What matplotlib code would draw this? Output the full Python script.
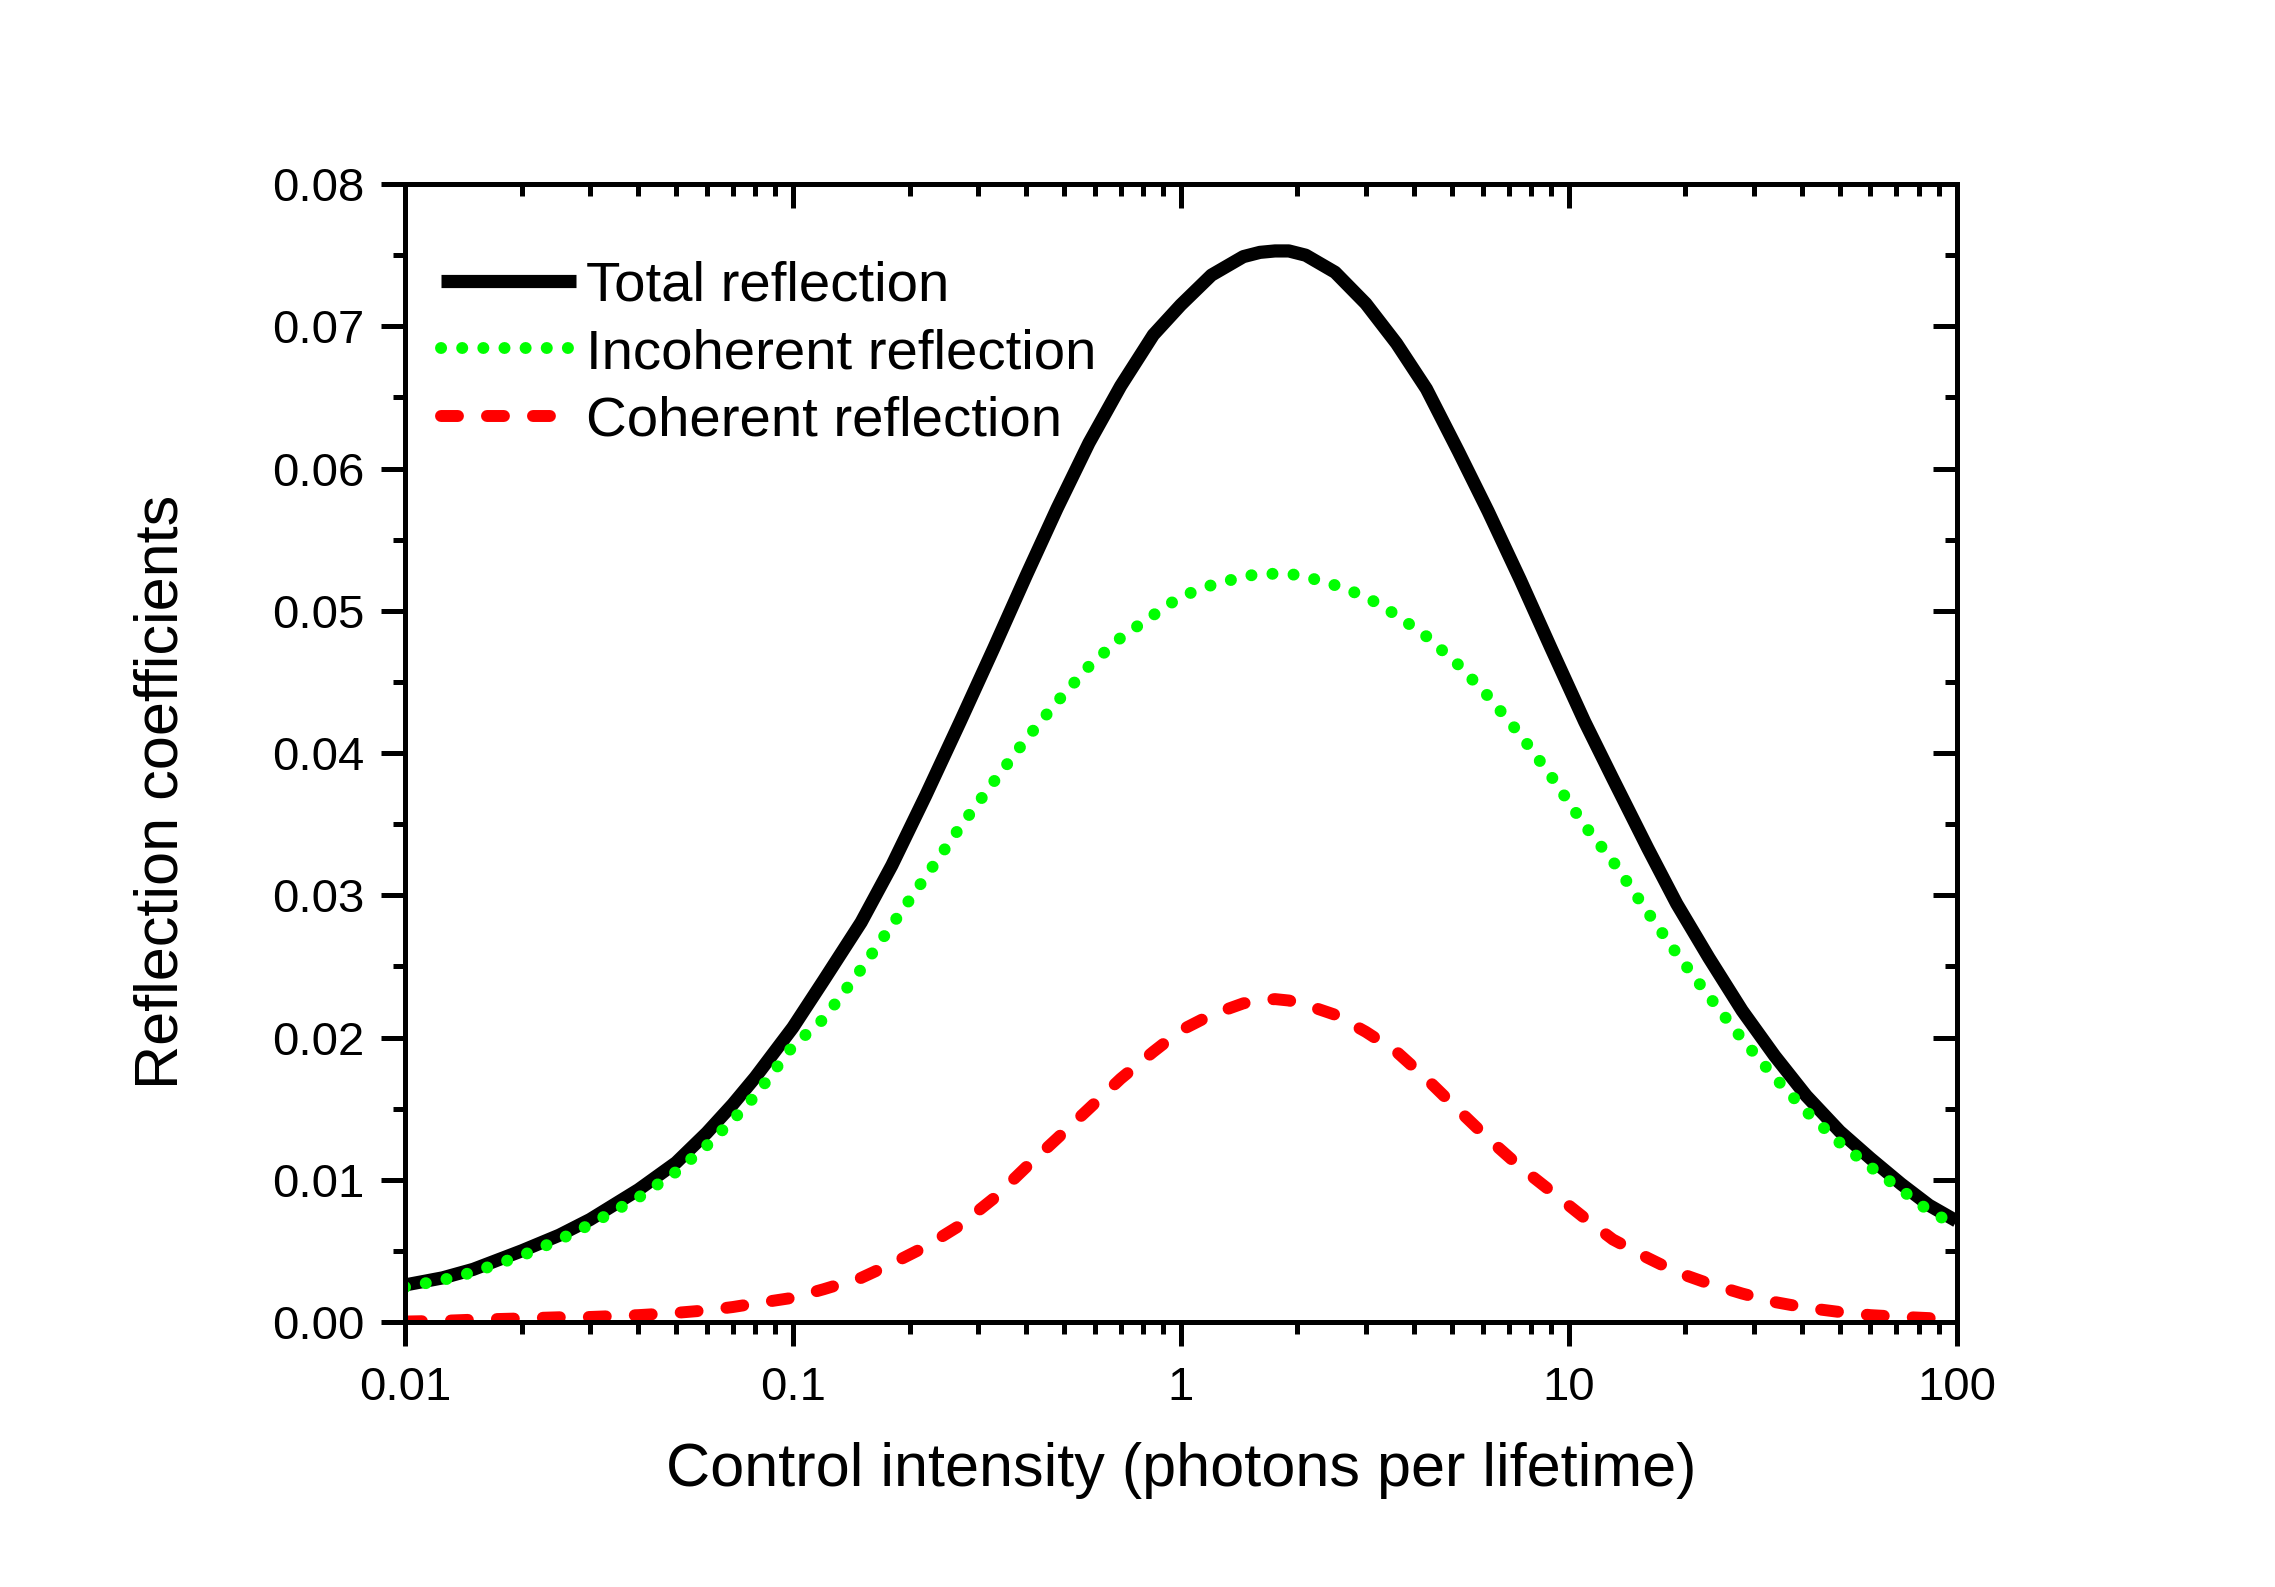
import numpy as np
import matplotlib
matplotlib.use("Agg")
import matplotlib.pyplot as plt
from matplotlib.ticker import LogLocator, NullFormatter, MultipleLocator

plt.rcParams['font.family'] = ['Liberation Sans', 'DejaVu Sans']

# control intensity (photons per lifetime)
intensity = [0.01, 0.0125, 0.015, 0.02, 0.025, 0.03, 0.04, 0.05, 0.06, 0.07,
             0.08, 0.1, 0.12, 0.15, 0.18, 0.22, 0.27, 0.33, 0.4, 0.48,
             0.58, 0.7, 0.85, 1.0, 1.2, 1.45, 1.6, 1.75, 1.9, 2.1,
             2.5, 3.0, 3.6, 4.3, 5.2, 6.2, 7.5, 9.0, 11, 13,
             16, 19, 23, 28, 34, 41, 50, 60, 72, 85, 100]

# total reflection (black solid)
total = [0.0026, 0.0031, 0.0037, 0.0050, 0.0061, 0.0072, 0.0093, 0.0112, 0.0133, 0.0153,
         0.0172, 0.0207, 0.0240, 0.0281, 0.0321, 0.0370, 0.0422, 0.0474, 0.0525, 0.0572,
         0.0618, 0.0658, 0.0694, 0.0715, 0.0736, 0.0749, 0.0752, 0.0753, 0.0753, 0.0750,
         0.0738, 0.0716, 0.0688, 0.0656, 0.0612, 0.0570, 0.0522, 0.0474, 0.0422, 0.0382,
         0.0333, 0.0294, 0.0256, 0.0219, 0.0187, 0.0159, 0.0134, 0.0115, 0.0097, 0.0082, 0.0071]

# incoherent reflection (green dotted)
incoherent = [0.00245, 0.00295, 0.0035, 0.00466, 0.00578, 0.00685, 0.00875, 0.01055, 0.0124, 0.0142,
              0.0159, 0.0194, 0.0213, 0.0248, 0.0279, 0.0313, 0.0348, 0.0380, 0.0410, 0.0436,
              0.0461, 0.0481, 0.0497, 0.0510, 0.0518, 0.0524, 0.0526, 0.0526, 0.0526, 0.0524,
              0.0518, 0.0510, 0.0497, 0.0482, 0.0462, 0.0440, 0.0413, 0.0384, 0.0349, 0.0324,
              0.0288, 0.0259, 0.0229, 0.0199, 0.0172, 0.0148, 0.0126, 0.0109, 0.0093, 0.0078, 0.0068]

# coherent reflection (red dashed)
coherent = [0.00003, 0.00008, 0.00016, 0.00025, 0.00033, 0.00035, 0.00048, 0.00064, 0.00082, 0.00105,
            0.0013, 0.0017, 0.0023, 0.0031, 0.0041, 0.0053, 0.0068, 0.0087, 0.0109, 0.0129,
            0.0150, 0.0171, 0.0190, 0.0205, 0.0216, 0.0224, 0.0226, 0.0227, 0.0226, 0.0223,
            0.0216, 0.0204, 0.0190, 0.0171, 0.0149, 0.0129, 0.0109, 0.0092, 0.0073, 0.0058,
            0.0045, 0.0035, 0.0027, 0.0020, 0.0014, 0.0010, 0.0007, 0.00048, 0.00036, 0.00027, 0.0002]

x_ticks = [0.01, 0.1, 1, 10, 100]
x_ticklabels = ['0.01', '0.1', '1', '10', '100']
y_ticks = [0.00, 0.01, 0.02, 0.03, 0.04, 0.05, 0.06, 0.07, 0.08]

fig = plt.figure(figsize=(22.75, 15.87), dpi=100)
ax = fig.add_axes([0.178, 0.167, 0.682, 0.717])

lw = 8.6
ax.plot(intensity, total, color='black', lw=9.5, label='Total reflection',
        solid_capstyle='butt', solid_joinstyle='round')
ax.plot(intensity, incoherent, color='#00ff00', lw=lw, linestyle=(0, (0.01, 1.76)),
        dash_capstyle='round', label='Incoherent reflection')
ax.plot(intensity, coherent, color='#ff0000', lw=lw, linestyle=(0, (1.42, 2.43)),
        dash_capstyle='round', label='Coherent reflection')

ax.set_xscale('log')
ax.set_xlim(0.01, 100)
ax.set_ylim(0, 0.08)
ax.set_xticks(x_ticks)
ax.set_xticklabels(x_ticklabels)
ax.xaxis.set_minor_locator(LogLocator(base=10, subs=np.arange(2, 10)))
ax.xaxis.set_minor_formatter(NullFormatter())
ax.set_yticks(y_ticks)
ax.set_yticklabels(['%.2f' % v for v in y_ticks])
ax.yaxis.set_minor_locator(MultipleLocator(0.005))

spine_w = 3.6
for s in ax.spines.values():
    s.set_linewidth(spine_w)

ax.tick_params(which='major', direction='out', length=17, width=spine_w, labelsize=34)
ax.tick_params(which='minor', direction='out', length=8.6, width=spine_w)
ax.tick_params(axis='x', which='major', pad=15)
ax.tick_params(axis='y', which='major', pad=12)

# top and right ticks point inward
ax_top = ax.twiny()
ax_top.set_xscale('log')
ax_top.set_xlim(ax.get_xlim())
ax_top.set_xticks(x_ticks)
ax_top.xaxis.set_minor_locator(LogLocator(base=10, subs=np.arange(2, 10)))
ax_top.xaxis.set_minor_formatter(NullFormatter())
ax_top.tick_params(which='major', direction='in', length=17, width=spine_w, labeltop=False)
ax_top.tick_params(which='minor', direction='in', length=8.6, width=spine_w)

ax_right = ax.twinx()
ax_right.set_ylim(ax.get_ylim())
ax_right.set_yticks(y_ticks)
ax_right.yaxis.set_minor_locator(MultipleLocator(0.005))
ax_right.tick_params(which='major', direction='in', length=17, width=spine_w, labelright=False)
ax_right.tick_params(which='minor', direction='in', length=8.6, width=spine_w)
for a in (ax_top, ax_right):
    for s in a.spines.values():
        s.set_linewidth(spine_w)

ax.set_xlabel('Control intensity (photons per lifetime)', fontsize=44, labelpad=23)
ax.set_ylabel('Reflection coefficients', fontsize=44, labelpad=59)
ax.yaxis.label.set_y(0.466)

ax.legend(loc='upper left', bbox_to_anchor=(0.023, 0.933), frameon=False,
          fontsize=40.6, handlelength=2.4, handletextpad=0.17, labelspacing=0.28,
          borderpad=0, borderaxespad=0)

fig.savefig('out.png', dpi=100)
